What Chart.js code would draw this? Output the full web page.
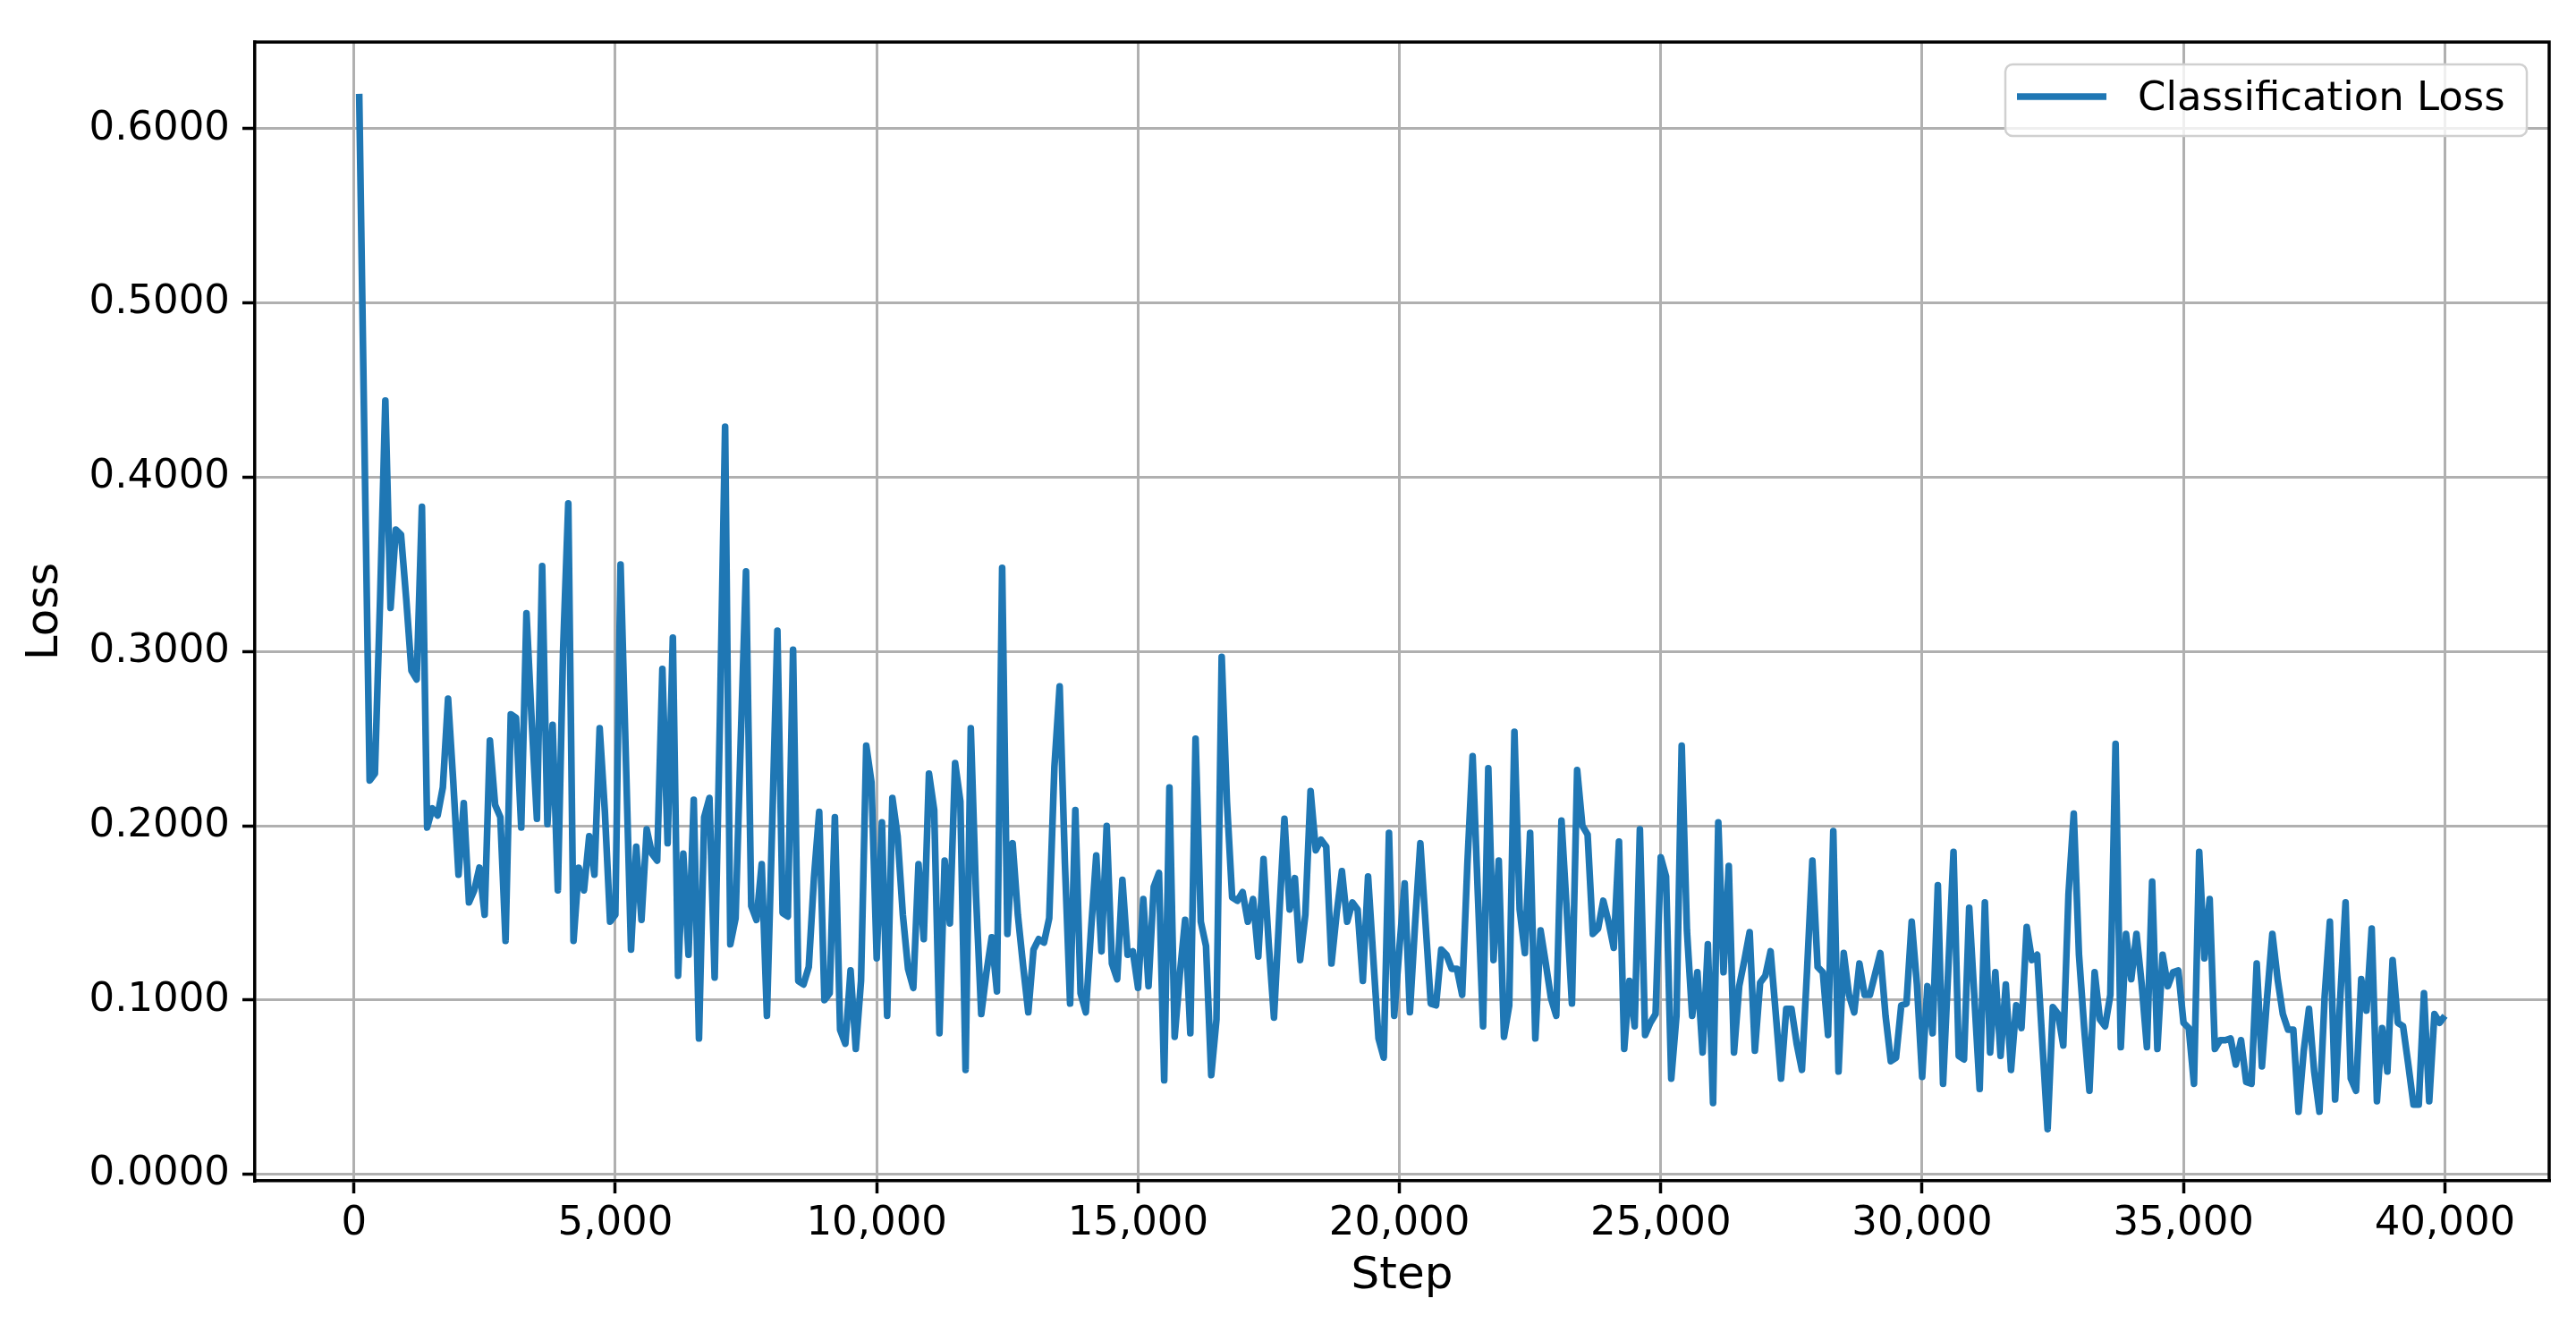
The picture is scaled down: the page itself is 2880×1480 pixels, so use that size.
<!DOCTYPE html>
<html>
<head>
<meta charset="utf-8">
<script src="https://cdn.jsdelivr.net/npm/chart.js@4.4.1/dist/chart.umd.min.js"></script>
<style>
  html, body { margin: 0; padding: 0; background: #fff; }
  #wrap { width: 2880px; height: 1480px; }
</style>
</head>
<body>
<div id="wrap"><canvas id="lossChart" width="2880" height="1480"></canvas></div>
<script>
// logged every 100 steps, first log at step 100
const stepStart = 100;
const stepEvery = 100;

// classification loss, 10 values per line (1,000 steps)
const lossValues = [
  0.620, 0.420, 0.226, 0.230, 0.330, 0.444, 0.325, 0.370, 0.367, 0.330,
  0.289, 0.284, 0.383, 0.199, 0.210, 0.206, 0.222, 0.273, 0.225, 0.172,
  0.213, 0.156, 0.163, 0.176, 0.149, 0.249, 0.212, 0.205, 0.134, 0.264,
  0.262, 0.199, 0.322, 0.260, 0.204, 0.349, 0.201, 0.258, 0.163, 0.300,
  0.385, 0.134, 0.176, 0.163, 0.194, 0.172, 0.256, 0.208, 0.145, 0.149,
  0.350, 0.240, 0.129, 0.188, 0.146, 0.198, 0.184, 0.180, 0.290, 0.190,
  0.308, 0.114, 0.184, 0.126, 0.215, 0.078, 0.205, 0.216, 0.113, 0.260,
  0.429, 0.132, 0.147, 0.250, 0.346, 0.154, 0.146, 0.178, 0.091, 0.200,
  0.312, 0.150, 0.148, 0.301, 0.111, 0.109, 0.119, 0.170, 0.208, 0.100,
  0.104, 0.205, 0.083, 0.075, 0.117, 0.072, 0.111, 0.246, 0.225, 0.124,
  0.202, 0.091, 0.216, 0.194, 0.149, 0.118, 0.107, 0.178, 0.135, 0.230,
  0.209, 0.081, 0.180, 0.144, 0.236, 0.214, 0.060, 0.256, 0.160, 0.092,
  0.116, 0.136, 0.105, 0.348, 0.138, 0.190, 0.149, 0.120, 0.093, 0.129,
  0.135, 0.133, 0.147, 0.234, 0.280, 0.179, 0.098, 0.209, 0.104, 0.093,
  0.140, 0.183, 0.128, 0.200, 0.121, 0.112, 0.169, 0.126, 0.128, 0.107,
  0.158, 0.108, 0.165, 0.173, 0.054, 0.222, 0.079, 0.115, 0.146, 0.081,
  0.250, 0.145, 0.131, 0.057, 0.089, 0.297, 0.214, 0.159, 0.157, 0.162,
  0.145, 0.158, 0.125, 0.181, 0.132, 0.090, 0.148, 0.204, 0.152, 0.170,
  0.123, 0.149, 0.220, 0.186, 0.192, 0.188, 0.121, 0.150, 0.174, 0.145,
  0.156, 0.152, 0.111, 0.171, 0.124, 0.078, 0.067, 0.196, 0.091, 0.130,
  0.167, 0.093, 0.144, 0.190, 0.144, 0.098, 0.097, 0.129, 0.126, 0.118,
  0.118, 0.103, 0.178, 0.240, 0.161, 0.085, 0.233, 0.123, 0.180, 0.079,
  0.097, 0.254, 0.152, 0.127, 0.196, 0.078, 0.140, 0.121, 0.101, 0.091,
  0.203, 0.152, 0.098, 0.232, 0.200, 0.195, 0.138, 0.141, 0.157, 0.145,
  0.130, 0.191, 0.072, 0.111, 0.085, 0.198, 0.080, 0.087, 0.092, 0.182,
  0.171, 0.055, 0.091, 0.246, 0.140, 0.091, 0.116, 0.070, 0.132, 0.041,
  0.202, 0.116, 0.177, 0.070, 0.108, 0.123, 0.139, 0.071, 0.110, 0.114,
  0.128, 0.092, 0.055, 0.095, 0.095, 0.075, 0.060, 0.118, 0.180, 0.119,
  0.116, 0.080, 0.197, 0.059, 0.127, 0.103, 0.093, 0.121, 0.103, 0.103,
  0.115, 0.127, 0.091, 0.065, 0.067, 0.097, 0.098, 0.145, 0.109, 0.056,
  0.108, 0.081, 0.166, 0.052, 0.118, 0.185, 0.068, 0.066, 0.153, 0.101,
  0.049, 0.156, 0.070, 0.116, 0.068, 0.109, 0.060, 0.097, 0.084, 0.142,
  0.123, 0.126, 0.075, 0.026, 0.096, 0.092, 0.074, 0.161, 0.207, 0.126,
  0.084, 0.048, 0.116, 0.089, 0.085, 0.103, 0.247, 0.073, 0.138, 0.112,
  0.138, 0.109, 0.073, 0.168, 0.072, 0.126, 0.108, 0.116, 0.117, 0.087,
  0.084, 0.052, 0.185, 0.124, 0.158, 0.072, 0.077, 0.077, 0.078, 0.063,
  0.077, 0.053, 0.052, 0.121, 0.062, 0.102, 0.138, 0.112, 0.092, 0.083,
  0.083, 0.036, 0.071, 0.095, 0.059, 0.036, 0.102, 0.145, 0.043, 0.102,
  0.156, 0.055, 0.048, 0.112, 0.094, 0.141, 0.042, 0.084, 0.059, 0.123,
  0.087, 0.085, 0.063, 0.040, 0.040, 0.104, 0.042, 0.092, 0.087, 0.091
];

const xTickValues = [0, 5000, 10000, 15000, 20000, 25000, 30000, 35000, 40000];
const yTickValues = [0, 0.1, 0.2, 0.3, 0.4, 0.5, 0.6];

const seriesLabel = 'Classification Loss';
const lineColor = '#1f77b4';
const fontFamily = '"DejaVu Sans", sans-serif';

// points for the linear x axis
const lossPoints = lossValues.map((v, i) => ({ x: stepStart + i * stepEvery, y: v }));

// top/right spines + matplotlib-style legend box
const framePlugin = {
  id: 'frame',
  afterDraw(chart) {
    const { ctx, chartArea: a } = chart;
    ctx.save();
    ctx.strokeStyle = '#000';
    ctx.lineWidth = 3.5;
    ctx.beginPath();
    ctx.moveTo(a.left, a.top);
    ctx.lineTo(a.right, a.top);
    ctx.lineTo(a.right, a.bottom);
    ctx.stroke();

    // legend
    const ds = chart.data.datasets[0];
    const bx = 2242, by = 72, bw = 583, bh = 80, r = 8;
    ctx.beginPath();
    ctx.roundRect(bx, by, bw, bh, r);
    ctx.fillStyle = 'rgba(255,255,255,0.8)';
    ctx.fill();
    ctx.strokeStyle = '#d0d0d0';
    ctx.lineWidth = 2.5;
    ctx.stroke();

    ctx.strokeStyle = ds.borderColor;
    ctx.lineWidth = 7.5;
    ctx.beginPath();
    ctx.moveTo(2255, 108);
    ctx.lineTo(2355, 108);
    ctx.stroke();

    ctx.fillStyle = '#000';
    ctx.font = '45px ' + fontFamily;
    ctx.textBaseline = 'alphabetic';
    ctx.textAlign = 'left';
    ctx.fillText(ds.label, 2390, 123);
    ctx.restore();
  }
};

new Chart(document.getElementById('lossChart'), {
  type: 'line',
  data: {
    datasets: [{
      label: seriesLabel,
      data: lossPoints,
      borderColor: lineColor,
      backgroundColor: lineColor,
      borderWidth: 7.5,
      borderJoinStyle: 'round',
      pointRadius: 0,
      tension: 0,
      fill: false
    }]
  },
  options: {
    responsive: false,
    animation: false,
    devicePixelRatio: 1,
    layout: { padding: { top: 47, right: 30, bottom: 0, left: 0 } },
    plugins: {
      legend: { display: false },
      tooltip: { enabled: false }
    },
    scales: {
      x: {
        type: 'linear',
        min: -1895,
        max: 41995,
        afterBuildTicks: (axis) => { axis.ticks = xTickValues.map(v => ({ value: v })); },
        afterFit: (s) => { s.height = 160; },
        ticks: {
          autoSkip: false,
          maxRotation: 0,
          color: '#000',
          padding: 7,
          font: { family: fontFamily, size: 45 },
          callback: (v) => v.toLocaleString('en-US')
        },
        grid: { color: '#b0b0b0', lineWidth: 3, tickColor: '#000', tickWidth: 3.5, tickLength: 14 },
        border: { display: true, color: '#000', width: 3.5 },
        title: {
          display: true,
          text: 'Step',
          color: '#000',
          font: { family: fontFamily, size: 50 },
          padding: { top: 0, bottom: 23 }
        }
      },
      y: {
        type: 'linear',
        min: -0.0037,
        max: 0.6497,
        afterBuildTicks: (axis) => { axis.ticks = yTickValues.map(v => ({ value: v })); },
        afterFit: (s) => { s.width = 285; },
        ticks: {
          color: '#000',
          padding: 14,
          font: { family: fontFamily, size: 45 },
          callback: (v) => v.toFixed(4)
        },
        grid: { color: '#b0b0b0', lineWidth: 3, tickColor: '#000', tickWidth: 3.5, tickLength: 14 },
        border: { display: true, color: '#000', width: 3.5 },
        title: {
          display: true,
          text: 'Loss',
          color: '#000',
          font: { family: fontFamily, size: 50 },
          padding: { top: 21, bottom: 0 }
        }
      }
    }
  },
  plugins: [framePlugin]
});
</script>
</body>
</html>
